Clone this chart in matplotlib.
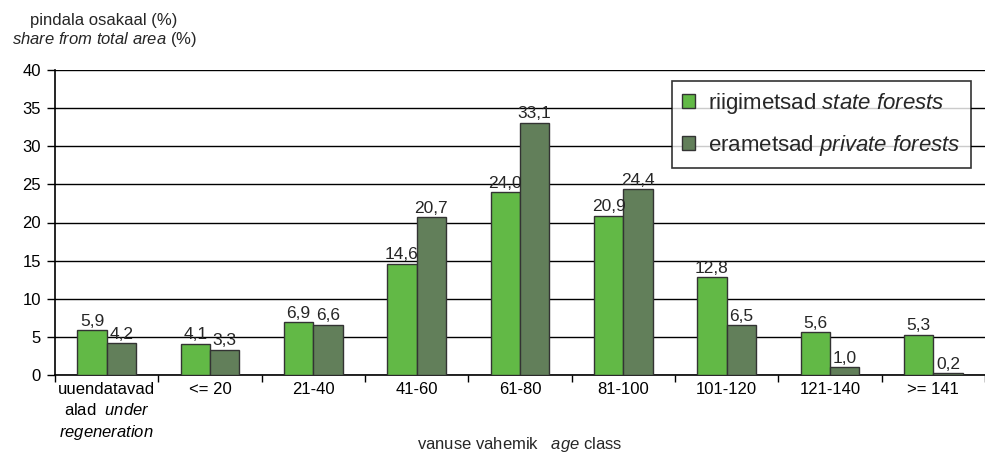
import numpy as np
import matplotlib
matplotlib.use("Agg")
import matplotlib.pyplot as plt

plt.rcParams["font.family"] = ["Liberation Sans", "DejaVu Sans"]
plt.rcParams["mathtext.fontset"] = "custom"
plt.rcParams["mathtext.rm"] = "Liberation Sans"
plt.rcParams["mathtext.it"] = "Liberation Sans:italic"
plt.rcParams["text.color"] = "#262626"

# age classes and shares (%)
categories = ["uuendatavad\nalad  $\\it{under}$\n$\\it{regeneration}$", "<= 20", "21-40", "41-60",
              "61-80", "81-100", "101-120", "121-140", ">= 141"]
state_forests = [5.9, 4.1, 6.9, 14.6, 24.0, 20.9, 12.8, 5.6, 5.3]
private_forests = [4.2, 3.3, 6.6, 20.7, 33.1, 24.4, 6.5, 1.0, 0.2]
series_labels = ["riigimetsad $\\it{state\\ forests}$", "erametsad $\\it{private\\ forests}$"]
colors = ["#62b946", "#627f5a"]

fig = plt.figure(figsize=(9.85, 4.55), dpi=100)
ax = fig.add_axes([55 / 985, 1 - 375 / 455, 930 / 985, 305 / 455])

x = np.arange(len(categories))
w = 0.285
b1 = ax.bar(x - w / 2, state_forests, w, color=colors[0], edgecolor="#333333", linewidth=1,
            label=series_labels[0], zorder=3)
b2 = ax.bar(x + w / 2, private_forests, w, color=colors[1], edgecolor="#333333", linewidth=1,
            label=series_labels[1], zorder=3)

fmt = lambda vals: [f"{v:.1f}".replace(".", ",") for v in vals]
ax.bar_label(b1, labels=fmt(state_forests), padding=1, fontsize=12.5, color="#262626", zorder=4)
ax.bar_label(b2, labels=fmt(private_forests), padding=1, fontsize=12.5, color="#262626", zorder=4)

ax.set_xlim(-0.5, len(categories) - 0.5)
ax.set_ylim(0, 40)
ax.set_yticks(range(0, 41, 5))
ax.yaxis.grid(True, color="black", linewidth=1, zorder=0)
ax.set_axisbelow(True)

ax.set_xticks(x)
ax.set_xticklabels(categories, fontsize=12, linespacing=1.38)
ax.set_xticks(np.arange(-0.5, len(categories), 1), minor=True)
ax.tick_params(axis="x", which="major", length=0, pad=5)
ax.tick_params(axis="x", which="minor", length=5, width=1, color="black")
ax.tick_params(axis="y", length=6, width=1, color="black", labelsize=12, pad=4)

for s in ["top", "right"]:
    ax.spines[s].set_visible(False)
ax.spines["left"].set_linewidth(1.2)
ax.spines["bottom"].set_linewidth(1.2)

fig.text(520 / 985, 1 - 445 / 455, "vanuse vahemik   $\\it{age}$ class",
         ha="center", va="center", fontsize=12)
fig.text(104 / 985, 1 - 31 / 455, "pindala osakaal (%)\n$\\it{share\\ from\\ total\\ area}$ (%)",
         ha="center", va="center", fontsize=12, multialignment="center")

leg = ax.legend(loc="upper right", bbox_to_anchor=(971 / 985, 1 - 81 / 455),
                bbox_transform=fig.transFigure, fontsize=16, frameon=True, fancybox=False,
                edgecolor="black", handlelength=0.6, handleheight=0.6, borderpad=0.45,
                labelspacing=0.75, handletextpad=0.6, borderaxespad=0)
leg.get_frame().set_linewidth(1.2)

fig.savefig("out.png", dpi=100)
